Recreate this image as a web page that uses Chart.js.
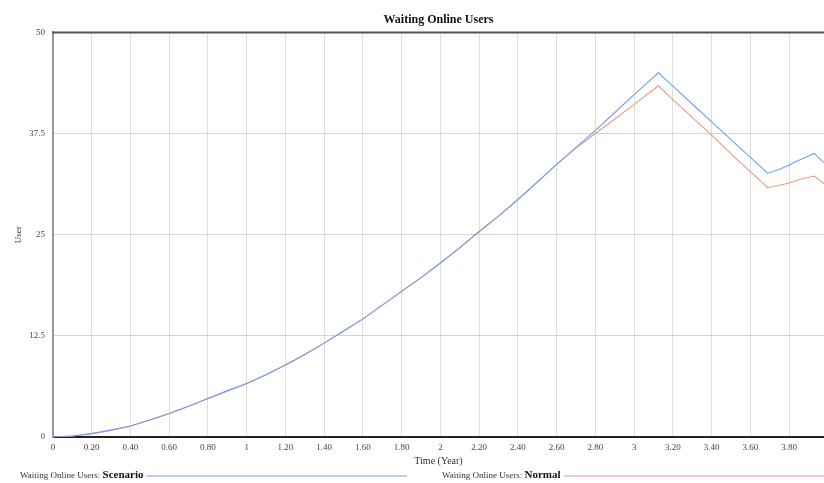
<!DOCTYPE html>
<html>
<head>
<meta charset="utf-8">
<script src="https://cdn.jsdelivr.net/npm/chart.js@4"></script>
<style>
  html, body { margin: 0; padding: 0; background: #ffffff; }
  #wrap { position: relative; width: 824px; height: 483px; }
</style>
</head>
<body>
<div id="wrap"><canvas id="usersChart" width="824" height="483"></canvas></div>
<script>
// Waiting Online Users
const timeYears = [0, 0.1, 0.2, 0.3, 0.4, 0.5, 0.6, 0.7, 0.8, 0.9, 1.0, 1.1, 1.2, 1.3, 1.4, 1.5,
  1.6, 1.7, 1.8, 1.9, 2.0, 2.1, 2.2, 2.3, 2.4, 2.5, 2.6, 2.7, 2.8, 2.9, 3.0, 3.125,
  3.2, 3.3, 3.4, 3.5, 3.6, 3.69, 3.75, 3.8, 3.85, 3.93, 3.98];

const scenarioUsers = [0, 0.12, 0.42, 0.85, 1.36, 2.1, 2.9, 3.8, 4.76, 5.7, 6.6, 7.7, 8.9, 10.2, 11.6, 13.1,
  14.6, 16.3, 18.0, 19.7, 21.5, 23.4, 25.4, 27.3, 29.35, 31.5, 33.7, 35.8, 37.9, 40.1, 42.3, 45.0,
  43.35, 41.15, 38.95, 36.75, 34.55, 32.6, 33.1, 33.6, 34.2, 35.05, 33.9];

const normalUsers = [0, 0.12, 0.42, 0.85, 1.36, 2.1, 2.9, 3.8, 4.76, 5.7, 6.6, 7.7, 8.9, 10.2, 11.6, 13.1,
  14.6, 16.3, 18.0, 19.7, 21.5, 23.4, 25.4, 27.3, 29.35, 31.5, 33.7, 35.7, 37.5, 39.3, 41.1, 43.4,
  41.7, 39.5, 37.3, 35.0, 32.8, 30.8, 31.1, 31.4, 31.8, 32.25, 31.3];

const yTicks = [0, 12.5, 25, 37.5, 50];
const seriesNames = ['Scenario', 'Normal'];
const seriesColors = ['#6f9ff0', '#ec9a80'];

const serif = 'Liberation Serif';

function toPoints(values) {
  return timeYears.map((t, i) => ({ x: t, y: values[i] }));
}

function formatYear(v) {
  const r = Math.round(v * 100) / 100;
  return Number.isInteger(r) ? String(r) : r.toFixed(2);
}

// Bordes y leyenda inferior dibujados a mano (estilo Vensim)
const frameAndLegend = {
  id: 'frameAndLegend',
  afterDraw(chart) {
    const { ctx, chartArea } = chart;
    ctx.save();
    // borde superior
    ctx.strokeStyle = '#555555';
    ctx.lineWidth = 2;
    ctx.beginPath();
    ctx.moveTo(chartArea.left - 1, chartArea.top);
    ctx.lineTo(chartArea.right, chartArea.top);
    ctx.stroke();

    // leyenda
    const legendY = 476;
    const entries = [
      { x: 20, lineEnd: 407 },
      { x: 442, lineEnd: 824 }
    ];
    chart.data.datasets.forEach((ds, i) => {
      const e = entries[i];
      ctx.textBaseline = 'middle';
      ctx.fillStyle = '#333333';
      ctx.font = '9px "' + serif + '"';
      const prefix = 'Waiting Online Users: ';
      ctx.fillText(prefix, e.x, legendY);
      const w1 = ctx.measureText(prefix).width;
      ctx.font = 'bold 11px "' + serif + '"';
      ctx.fillStyle = '#111111';
      ctx.fillText(ds.label, e.x + w1, legendY - 1);
      const w2 = ctx.measureText(ds.label).width;
      ctx.strokeStyle = ds.borderColor;
      ctx.lineWidth = 1.2;
      ctx.beginPath();
      ctx.moveTo(e.x + w1 + w2 + 3, legendY);
      ctx.lineTo(e.lineEnd, legendY);
      ctx.stroke();
    });
    ctx.restore();
  }
};

const ctx = document.getElementById('usersChart');

new Chart(ctx, {
  type: 'line',
  data: {
    datasets: [
      {
        label: seriesNames[0],
        data: toPoints(scenarioUsers),
        borderColor: seriesColors[0],
        borderWidth: 1.1,
        pointRadius: 0,
        tension: 0,
        fill: false
      },
      {
        label: seriesNames[1],
        data: toPoints(normalUsers),
        borderColor: seriesColors[1],
        borderWidth: 1.1,
        pointRadius: 0,
        tension: 0,
        fill: false
      }
    ]
  },
  options: {
    responsive: false,
    animation: false,
    layout: { padding: { left: 0, right: 0, top: 0, bottom: 0 } },
    plugins: {
      legend: { display: false },
      tooltip: { enabled: false },
      title: {
        display: true,
        text: 'Waiting Online Users',
        fullSize: false,
        color: '#111111',
        font: { family: serif, size: 12, weight: 'bold' },
        padding: { top: 13, bottom: 5 }
      }
    },
    scales: {
      x: {
        type: 'linear',
        min: 0,
        max: 3.98,
        afterBuildTicks(scale) {
          scale.ticks = scale.ticks.filter(t => Math.abs(t.value / 0.2 - Math.round(t.value / 0.2)) < 1e-6);
        },
        afterFit(scale) { scale.height = 46; },
        grid: { color: '#dedede', lineWidth: 1, drawTicks: false },
        border: { color: '#222222', width: 2 },
        ticks: {
          stepSize: 0.2,
          autoSkip: false,
          maxRotation: 0,
          padding: 5,
          color: '#444444',
          font: { family: serif, size: 9 },
          callback: (v) => formatYear(v)
        },
        title: {
          display: true,
          text: 'Time (Year)',
          color: '#333333',
          font: { family: serif, size: 10 },
          padding: { top: 0, bottom: 16 }
        }
      },
      y: {
        min: 0,
        max: 50,
        afterBuildTicks(scale) {
          scale.ticks = yTicks.map(v => ({ value: v }));
        },
        afterFit(scale) { scale.width = 53; },
        grid: { color: '#d4d4d4', lineWidth: 1, drawTicks: false },
        border: { color: '#999999', width: 2 },
        ticks: {
          padding: 8,
          color: '#444444',
          font: { family: serif, size: 9 },
          callback: (v) => String(v)
        },
        title: {
          display: true,
          text: 'User',
          color: '#333333',
          font: { family: serif, size: 9 },
          padding: { top: 13, bottom: 0 }
        }
      }
    }
  },
  plugins: [frameAndLegend]
});
</script>
</body>
</html>
